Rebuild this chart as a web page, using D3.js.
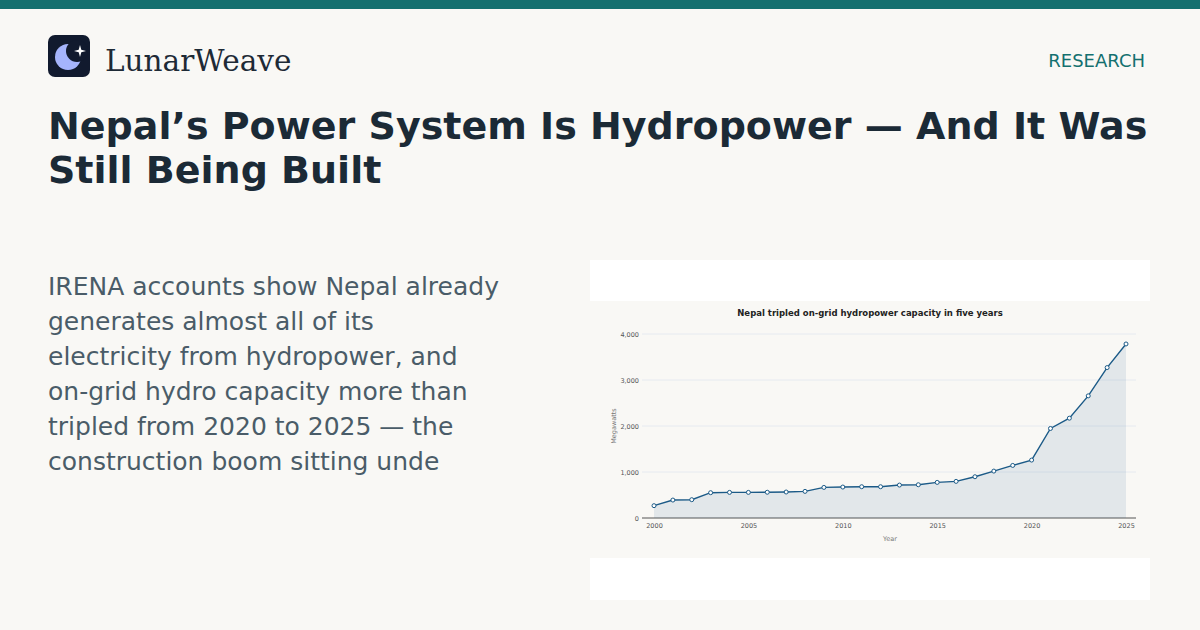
<!DOCTYPE html>
<html><head><meta charset="utf-8">
<script src="https://cdn.jsdelivr.net/npm/d3@7"></script>
<style>
body{margin:0;background:#f9f8f5;}
svg{display:block;font-family:"DejaVu Sans",sans-serif;}
</style></head>
<body><svg width="1200" height="630"></svg>
<script>
var years = d3.range(2000, 2026);
var capacity = [268, 390, 398, 550, 557, 557, 560, 565, 579, 665, 673, 680, 680, 716, 723, 774, 796, 897, 1020, 1143, 1259, 1946, 2170, 2655, 3270, 3783];
var yTicks = [0, 1000, 2000, 3000, 4000];
var xTicks = [2000, 2005, 2010, 2015, 2020, 2025];
var bodyLines = ["IRENA accounts show Nepal already", "generates almost all of its", "electricity from hydropower, and", "on-grid hydro capacity more than", "tripled from 2020 to 2025 — the", "construction boom sitting unde"];

var svg = d3.select("svg");
svg.append("rect").attr("width", 1200).attr("height", 630).attr("fill", "#f9f8f5");
svg.append("rect").attr("width", 1200).attr("height", 9).attr("fill", "#14706f");

// logo
svg.append("rect").attr("x", 48).attr("y", 35).attr("width", 42).attr("height", 42).attr("rx", 7).attr("fill", "#111a2e");
svg.append("circle").attr("cx", 68).attr("cy", 57).attr("r", 13).attr("fill", "#a5b4fc");
svg.append("circle").attr("cx", 77).attr("cy", 51).attr("r", 11).attr("fill", "#111a2e");
svg.append("path").attr("d", "M80,45 L81.3,49.7 L86,51 L81.3,52.3 L80,57 L78.7,52.3 L74,51 L78.7,49.7 Z").attr("fill", "#ffffff");
svg.append("text").attr("x", 105).attr("y", 71).attr("font-family", "'DejaVu Serif',serif").attr("font-size", 29.5).attr("fill", "#1e2a36").text("LunarWeave");
svg.append("text").attr("x", 1145).attr("y", 67).attr("text-anchor", "end").attr("font-size", 18).attr("fill", "#14706f").text("RESEARCH");

svg.append("text").attr("x", 48).attr("y", 139).attr("font-size", 38).attr("font-weight", "bold").attr("fill", "#1b2a36").text("Nepal’s Power System Is Hydropower — And It Was");
svg.append("text").attr("x", 48).attr("y", 183).attr("font-size", 38).attr("font-weight", "bold").attr("fill", "#1b2a36").text("Still Being Built");

svg.selectAll(".body").data(bodyLines).enter().append("text")
    .attr("x", 48).attr("y", function (d, i) { return 295 + i * 35; })
    .attr("font-size", 25).attr("fill", "#4a5c68").text(function (d) { return d; });

// chart panel
svg.append("rect").attr("x", 590).attr("y", 260).attr("width", 560).attr("height", 340).attr("fill", "#ffffff");
svg.append("rect").attr("x", 590).attr("y", 301).attr("width", 560).attr("height", 257).attr("fill", "#f9f8f5");

var x = d3.scaleLinear().domain([2000, 2025]).range([654, 1126]);
var y = d3.scaleLinear().domain([0, 4000]).range([518, 334]);

svg.append("text").attr("x", 870).attr("y", 316).attr("text-anchor", "middle").attr("font-size", 8.5).attr("font-weight", "bold").attr("fill", "#222").text("Nepal tripled on-grid hydropower capacity in five years");

svg.selectAll(".grid").data(yTicks.slice(1)).enter().append("line")
    .attr("x1", 642).attr("x2", 1136).attr("y1", y).attr("y2", y).attr("stroke", "#e6eaf0").attr("stroke-width", 1);

var yAxis = svg.append("g").attr("transform", "translate(642,0)")
    .call(d3.axisLeft(y).tickValues(yTicks).tickFormat(d3.format(",")).tickSize(0).tickPadding(3));
yAxis.select(".domain").remove();
yAxis.selectAll("text").attr("font-size", 6.5).attr("fill", "#555").style("font-family", "DejaVu Sans");

var xAxis = svg.append("g").attr("transform", "translate(0,518)")
    .call(d3.axisBottom(x).tickValues(xTicks).tickFormat(d3.format("d")).tickSize(0).tickPadding(5));
xAxis.select(".domain").attr("d", "M642,0H1136").attr("stroke", "#555");
xAxis.selectAll("text").attr("font-size", 6.5).attr("fill", "#555").style("font-family", "DejaVu Sans");

svg.append("text").attr("x", 890).attr("y", 541).attr("text-anchor", "middle").attr("font-size", 6.5).attr("fill", "#777").text("Year");
svg.append("text").attr("transform", "translate(616,426) rotate(-90)").attr("text-anchor", "middle").attr("font-size", 6.5).attr("fill", "#777").text("Megawatts");

var pts = years.map(function (d, i) { return [d, capacity[i]]; });
svg.append("path").datum(pts).attr("fill", "#1b5a87").attr("fill-opacity", 0.1)
    .attr("d", d3.area().x(function (d) { return x(d[0]); }).y0(y(0)).y1(function (d) { return y(d[1]); }));
svg.append("path").datum(pts).attr("fill", "none").attr("stroke", "#1b5a87").attr("stroke-width", 1.4)
    .attr("d", d3.line().x(function (d) { return x(d[0]); }).y(function (d) { return y(d[1]); }));
svg.selectAll(".dot").data(pts).enter().append("circle")
    .attr("cx", function (d) { return x(d[0]); }).attr("cy", function (d) { return y(d[1]); })
    .attr("r", 2).attr("fill", "#fff").attr("stroke", "#1b5a87").attr("stroke-width", 1);
</script></body></html>
